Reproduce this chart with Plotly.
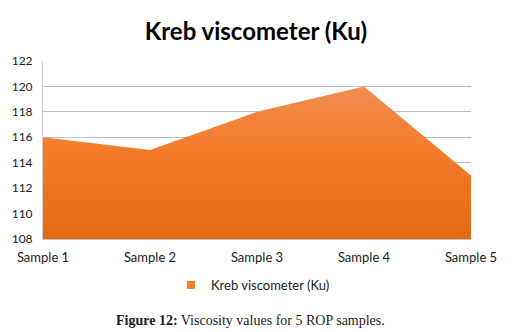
import plotly.graph_objects as go

categories = ["Sample 1", "Sample 2", "Sample 3", "Sample 4", "Sample 5"]
values = [116, 115, 118, 120, 113]
series_name = "Kreb viscometer (Ku)"
y_ticks = [108, 110, 112, 114, 116, 118, 120, 122]

# page body has an 8px margin; figure size/margins account for it
W, H = 513, 324
top, bottom, left, right = 53, 93, 35, 50
plot_h = H - top - bottom
plot_w = W - left - right

fig = go.Figure()
fig.add_trace(go.Scatter(
    x=categories, y=values, name=series_name, showlegend=False,
    mode="lines", line=dict(width=0, color="#F07F2E"),
    fill="tozeroy",
    fillgradient=dict(type="vertical", start=108, stop=121,
                      colorscale=[[0, "#E26A14"], [0.55, "#F47C2C"], [1, "#F09058"]]),
))
# legend swatch (square marker)
fig.add_trace(go.Scatter(
    x=[None], y=[None], name=series_name, mode="markers",
    marker=dict(symbol="square", size=8, color="#F07F2E"),
))

fig.update_layout(
    width=W, height=H,
    margin=dict(l=left, r=right, t=top, b=bottom, autoexpand=False),
    paper_bgcolor="white", plot_bgcolor="white",
    title=dict(text="<b>Kreb viscometer (Ku)</b>", x=(256 - 8) / W, xanchor="center",
               y=1 - (32 - 8) / H, yanchor="middle",
               font=dict(family="Lato", size=24, color="black")),
    xaxis=dict(type="category", range=[0, 4], showgrid=False, automargin=False,
               showline=True, linecolor="#BFBFBF", linewidth=1,
               ticks="", tickfont=dict(family="Lato", size=13, color="#222"),
               ticklabelstandoff=6),
    yaxis=dict(range=[108, 122], tickvals=y_ticks, showgrid=True, automargin=False,
               gridcolor="#BFBFBF", gridwidth=1, showline=True,
               linecolor="#D0D0D0", zeroline=False, ticks="",
               tickfont=dict(family="Lato", size=12, color="#222"),
               ticklabelstandoff=7),
    showlegend=True,
    legend=dict(orientation="h", x=(253 - 8 - left) / plot_w, xanchor="center",
                y=-(285 - 239) / plot_h, yanchor="middle",
                font=dict(family="Lato", size=13, color="#222"),
                itemwidth=30),
    annotations=[dict(
        text="<b>Figure 12:</b> Viscosity values for 5 ROP samples.",
        xref="paper", yref="paper", x=(250 - 8 - left) / plot_w,
        y=-(320 - 239) / plot_h,
        xanchor="center", yanchor="middle", showarrow=False,
        font=dict(family="Liberation Serif", size=14, color="#222"))],
)
fig.write_html("out.html")
